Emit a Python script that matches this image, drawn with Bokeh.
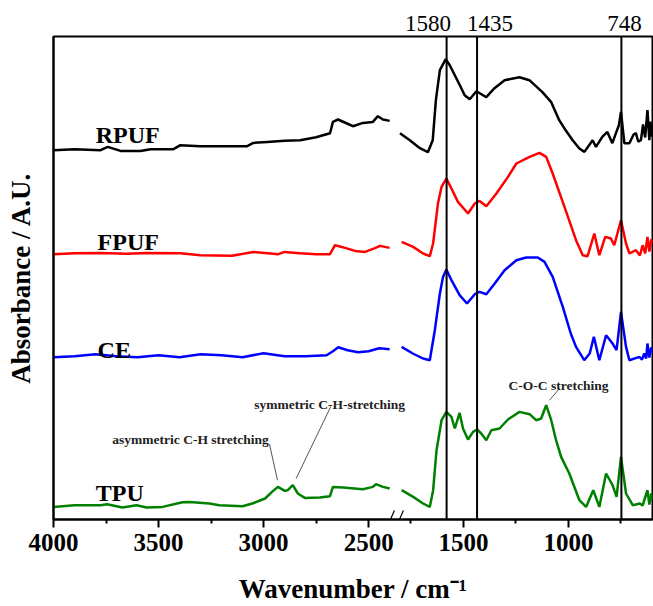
import numpy as np
from bokeh.plotting import figure
from bokeh.models import Range1d, FixedTicker, CustomJSTickFormatter, Span, Label, LinearAxis
from bokeh.embed import file_html
from bokeh.resources import INLINE

# ---------------- data (wavenumber in cm-1, absorbance in A.U., stacked) ----------------
RPUF_L_WN = [4000, 3900, 3776, 3742, 3681, 3586, 3538, 3429, 3396, 3301, 3150, 3078, 3049, 2983, 2900,
             2826, 2750, 2684, 2670, 2646, 2603, 2575, 2527, 2480, 2456, 2432, 2400]
RPUF_L_A = [3.693, 3.703, 3.693, 3.726, 3.686, 3.686, 3.703, 3.703, 3.743, 3.733, 3.733, 3.733, 3.766, 3.776, 3.788,
            3.793, 3.823, 3.863, 3.976, 4.000, 3.960, 3.933, 3.966, 3.976, 4.033, 4.000, 3.986]
RPUF_R_WN = [1802, 1755, 1707, 1669, 1646, 1631, 1612, 1584, 1565, 1541, 1517, 1494, 1470, 1438, 1391, 1352,
             1304, 1233, 1186, 1124, 1082, 1044, 1020, 980, 948, 924, 885, 869, 839, 815, 791, 774, 760, 750,
             734, 710, 690, 679, 668, 655, 645, 635, 624, 615, 610, 606, 600]
RPUF_R_A = [3.863, 3.793, 3.713, 3.673, 3.793, 4.193, 4.493, 4.603, 4.543, 4.443, 4.343, 4.243, 4.203, 4.283,
            4.223, 4.313, 4.393, 4.423, 4.393, 4.273, 4.173, 3.993, 3.913, 3.793, 3.710, 3.676, 3.793, 3.726,
            3.826, 3.876, 3.763, 3.863, 3.943, 4.076, 3.763, 3.763, 3.850, 3.863, 3.780, 3.793, 3.950, 3.820,
            4.093, 3.793, 3.980, 3.830, 3.950]

FPUF_L_WN = [4000, 3900, 3776, 3650, 3560, 3396, 3301, 3150, 3049, 2930, 2900, 2826, 2750, 2684, 2660, 2612,
             2565, 2517, 2470, 2446, 2400]
FPUF_L_A = [2.653, 2.663, 2.666, 2.658, 2.666, 2.663, 2.643, 2.638, 2.676, 2.653, 2.676, 2.663, 2.653, 2.653,
            2.743, 2.716, 2.686, 2.676, 2.713, 2.736, 2.716]
FPUF_R_WN = [1794, 1739, 1692, 1660, 1644, 1621, 1604, 1581, 1557, 1526, 1478, 1446, 1423, 1391, 1343, 1288,
             1248, 1185, 1138, 1106, 1075, 1019, 964, 932, 909, 877, 853, 825, 798, 782, 750, 726, 710, 679,
             660, 647, 635, 624, 615, 606, 600]
FPUF_R_A = [2.776, 2.726, 2.660, 2.633, 2.763, 3.163, 3.326, 3.410, 3.310, 3.176, 3.060, 3.160, 3.186, 3.133,
            3.260, 3.426, 3.560, 3.626, 3.666, 3.626, 3.460, 3.126, 2.793, 2.643, 2.633, 2.860, 2.643, 2.826,
            2.810, 2.743, 2.993, 2.760, 2.660, 2.693, 2.640, 2.743, 2.660, 2.826, 2.680, 2.800, 2.760]

CE_L_WN = [4000, 3900, 3800, 3700, 3600, 3500, 3400, 3300, 3200, 3100, 3000, 2900, 2800, 2700, 2670, 2645,
           2600, 2550, 2500, 2450, 2400]
CE_L_A = [1.623, 1.633, 1.653, 1.633, 1.623, 1.643, 1.623, 1.653, 1.643, 1.623, 1.663, 1.633, 1.633, 1.643,
          1.683, 1.723, 1.693, 1.673, 1.683, 1.713, 1.703]
CE_R_WN = [1794, 1741, 1692, 1660, 1636, 1612, 1597, 1581, 1557, 1518, 1483, 1446, 1423, 1391, 1351, 1304,
           1248, 1201, 1146, 1114, 1075, 1027, 989, 964, 925, 899, 879, 853, 821, 790, 771, 750, 726, 710,
           663, 650, 639, 630, 624, 615, 606, 600]
CE_R_A = [1.726, 1.660, 1.610, 1.593, 1.893, 2.260, 2.426, 2.500, 2.393, 2.243, 2.160, 2.253, 2.276, 2.253,
          2.360, 2.493, 2.593, 2.620, 2.620, 2.576, 2.426, 2.126, 1.860, 1.726, 1.593, 1.660, 1.826, 1.593,
          1.843, 1.760, 1.693, 2.076, 1.726, 1.593, 1.626, 1.600, 1.660, 1.610, 1.760, 1.620, 1.720, 1.673]

TPU_L_WN = [4000, 3900, 3776, 3745, 3672, 3605, 3557, 3481, 3386, 3353, 3258, 3211, 3100, 3054, 2993, 2960,
            2932, 2899, 2885, 2861, 2837, 2804, 2733, 2684, 2670, 2622, 2527, 2480, 2465, 2432, 2400]
TPU_L_A = [0.126, 0.143, 0.143, 0.153, 0.120, 0.143, 0.120, 0.126, 0.173, 0.176, 0.160, 0.143, 0.133, 0.160,
           0.210, 0.276, 0.326, 0.286, 0.293, 0.343, 0.260, 0.216, 0.220, 0.233, 0.326, 0.320, 0.303, 0.326,
           0.353, 0.326, 0.310]
TPU_R_WN = [1794, 1739, 1692, 1660, 1644, 1628, 1604, 1581, 1557, 1541, 1518, 1502, 1478, 1454, 1435, 1415,
            1391, 1367, 1328, 1288, 1233, 1185, 1154, 1130, 1106, 1082, 1059, 1035, 996, 948, 916, 882, 853,
            821, 790, 771, 750, 726, 694, 660, 647, 635, 624, 615, 606, 600]
TPU_R_A = [0.293, 0.226, 0.160, 0.126, 0.293, 0.693, 0.993, 1.076, 1.026, 0.910, 1.066, 0.910, 0.800, 0.876,
           0.900, 0.860, 0.793, 0.893, 0.910, 1.000, 1.076, 1.053, 0.993, 1.010, 1.143, 0.993, 0.793, 0.626,
           0.460, 0.193, 0.126, 0.293, 0.126, 0.460, 0.343, 0.226, 0.626, 0.260, 0.143, 0.160, 0.140, 0.220,
           0.293, 0.150, 0.260, 0.193]

SERIES = ["RPUF", "FPUF", "CE", "TPU"]
COLORS = ["#000000", "#ff0000", "#0000ff", "#008000"]
MARKED_BANDS = [1580, 1435, 748]
MAJOR_TICKS = [4000, 3500, 3000, 2500, 1500, 1000]
MINOR_TICKS = [3750, 3250, 2750, 1750, 1250, 750]

# ---------------- broken axis: the gap 2400..1800 cm-1 is collapsed ----------------
SHIFT = 549  # left segment is shifted by this many cm-1
X_START, X_END = 4000 - SHIFT, 600
FRAME_W = 599
PX_PER_UNIT = FRAME_W / (X_START - X_END)


def to_u(w):
    w = np.asarray(w, dtype=float)
    return np.where(w >= 2100, w - SHIFT, w)


FONT = "Liberation Serif"

p = figure(width=653, height=606, output_backend="svg", toolbar_location=None,
           x_range=Range1d(X_START, X_END), y_range=Range1d(0, 4.83),
           min_border_left=53, min_border_right=1, min_border_top=36, min_border_bottom=87)
p.background_fill_color = "white"
p.border_fill_color = "white"
p.outline_line_color = "black"
p.outline_line_width = 2
p.xgrid.visible = False
p.ygrid.visible = False

# x axis (bottom)
p.xaxis.ticker = FixedTicker(ticks=list(to_u(MAJOR_TICKS)), minor_ticks=list(to_u(MINOR_TICKS)))
p.xaxis.formatter = CustomJSTickFormatter(code="return String(Math.round(tick > 1825 ? tick + %d : tick));" % SHIFT)
p.xaxis.major_tick_out = 8
p.xaxis.major_tick_in = 0
p.xaxis.minor_tick_out = 4
p.xaxis.minor_tick_in = 0
p.xaxis.major_tick_line_width = 2
p.xaxis.minor_tick_line_width = 2
p.xaxis.axis_line_width = 2
p.xaxis.major_label_text_font = FONT
p.xaxis.major_label_text_font_style = "bold"
p.xaxis.major_label_text_font_size = "25px"
p.xaxis.major_label_text_color = "black"
p.xaxis.major_label_standoff = 6
p.xaxis.axis_label = "Wavenumber / cm\u207b\u00b9"
p.xaxis.axis_label_text_font = FONT
p.xaxis.axis_label_text_font_style = "bold"
p.xaxis.axis_label_text_font_size = "27px"
p.xaxis.axis_label_text_color = "black"
p.xaxis.axis_label_standoff = 20

# y axis: no ticks, only label
p.yaxis.ticker = FixedTicker(ticks=[])
p.yaxis.major_tick_line_color = None
p.yaxis.minor_tick_line_color = None
p.yaxis.major_label_text_font_size = "0px"
p.yaxis.axis_line_width = 2
p.yaxis.axis_label = "Absorbance / A.U."
p.yaxis.axis_label_text_font = FONT
p.yaxis.axis_label_text_font_style = "bold"
p.yaxis.axis_label_text_font_size = "27px"
p.yaxis.axis_label_text_color = "black"
p.yaxis.axis_label_standoff = 18

# top axis carrying the band labels (slightly offset from the band lines, as in the original)
band_offsets_px = [-18.7, 13.0, 3.2]
label_pos = [float(to_u(b)) - off / PX_PER_UNIT for b, off in zip(MARKED_BANDS, band_offsets_px)]
top = LinearAxis(ticker=FixedTicker(ticks=label_pos, minor_ticks=[]),
                 formatter=CustomJSTickFormatter(
                     args=dict(pos=label_pos, lab=[str(b) for b in MARKED_BANDS]),
                     code="for (let i = 0; i < pos.length; i++) { if (Math.abs(tick - pos[i]) < 1) return lab[i]; } return '';"))
top.axis_line_color = None
top.major_tick_line_color = None
top.minor_tick_line_color = None
top.major_label_standoff = 0
top.major_label_text_font = FONT
top.major_label_text_font_size = "23px"
top.major_label_text_color = "black"
p.add_layout(top, "above")

# marked bands
for b in MARKED_BANDS:
    p.add_layout(Span(location=float(to_u(b)), dimension="height", line_color="black", line_width=2))

# spectra
data = {
    "RPUF": (RPUF_L_WN, RPUF_L_A, RPUF_R_WN, RPUF_R_A),
    "FPUF": (FPUF_L_WN, FPUF_L_A, FPUF_R_WN, FPUF_R_A),
    "CE": (CE_L_WN, CE_L_A, CE_R_WN, CE_R_A),
    "TPU": (TPU_L_WN, TPU_L_A, TPU_R_WN, TPU_R_A),
}
for name, col in zip(SERIES, COLORS):
    lw, la, rw, ra = data[name]
    p.line(to_u(lw), la, line_color=col, line_width=2.5)
    p.line(to_u(rw), ra, line_color=col, line_width=2.5)

# series names
name_pos = {"RPUF": (3799, 3.843), "FPUF": (3790, 2.773), "CE": (3790, 1.70), "TPU": (3799, 0.263)}
for name in SERIES:
    wx, yy = name_pos[name]
    p.add_layout(Label(x=float(to_u(wx)), y=yy, text=name, text_font=FONT, text_font_style="bold",
                       text_font_size="24px", text_color="black", text_align="left",
                       text_baseline="alphabetic"))

# annotations
ann = [("asymmetric C-H stretching", 3720, 0.803), ("symmetric C-H-stretching", 3045, 1.153),
       ("C-O-C stretching", 1285, 1.338)]
for t, wx, yy in ann:
    p.add_layout(Label(x=float(to_u(wx)), y=yy, text=t, text_font=FONT, text_font_style="bold",
                       text_font_size="13.5px", text_color="#222222", text_align="left",
                       text_baseline="alphabetic"))
lead_x0 = to_u([2972, 2681, 1043])
lead_y0 = [0.753, 1.126, 1.310]
lead_x1 = to_u([2934, 2845, 1090])
lead_y1 = [0.393, 0.410, 1.193]
p.segment(lead_x0, lead_y0, lead_x1, lead_y1, line_color="#555555", line_width=1)

# axis break marks (the part inside the frame)
gap_u = 1826.0
half = 4.5 / PX_PER_UNIT
slash_dx = 4.0 / PX_PER_UNIT
p.segment([gap_u + half + slash_dx, gap_u - half + slash_dx],
          [-0.09, -0.09],
          [gap_u + half - slash_dx, gap_u - half - slash_dx],
          [0.09, 0.09], line_color="black", line_width=1.2)

open("out.html", "w").write(file_html(p, INLINE))
